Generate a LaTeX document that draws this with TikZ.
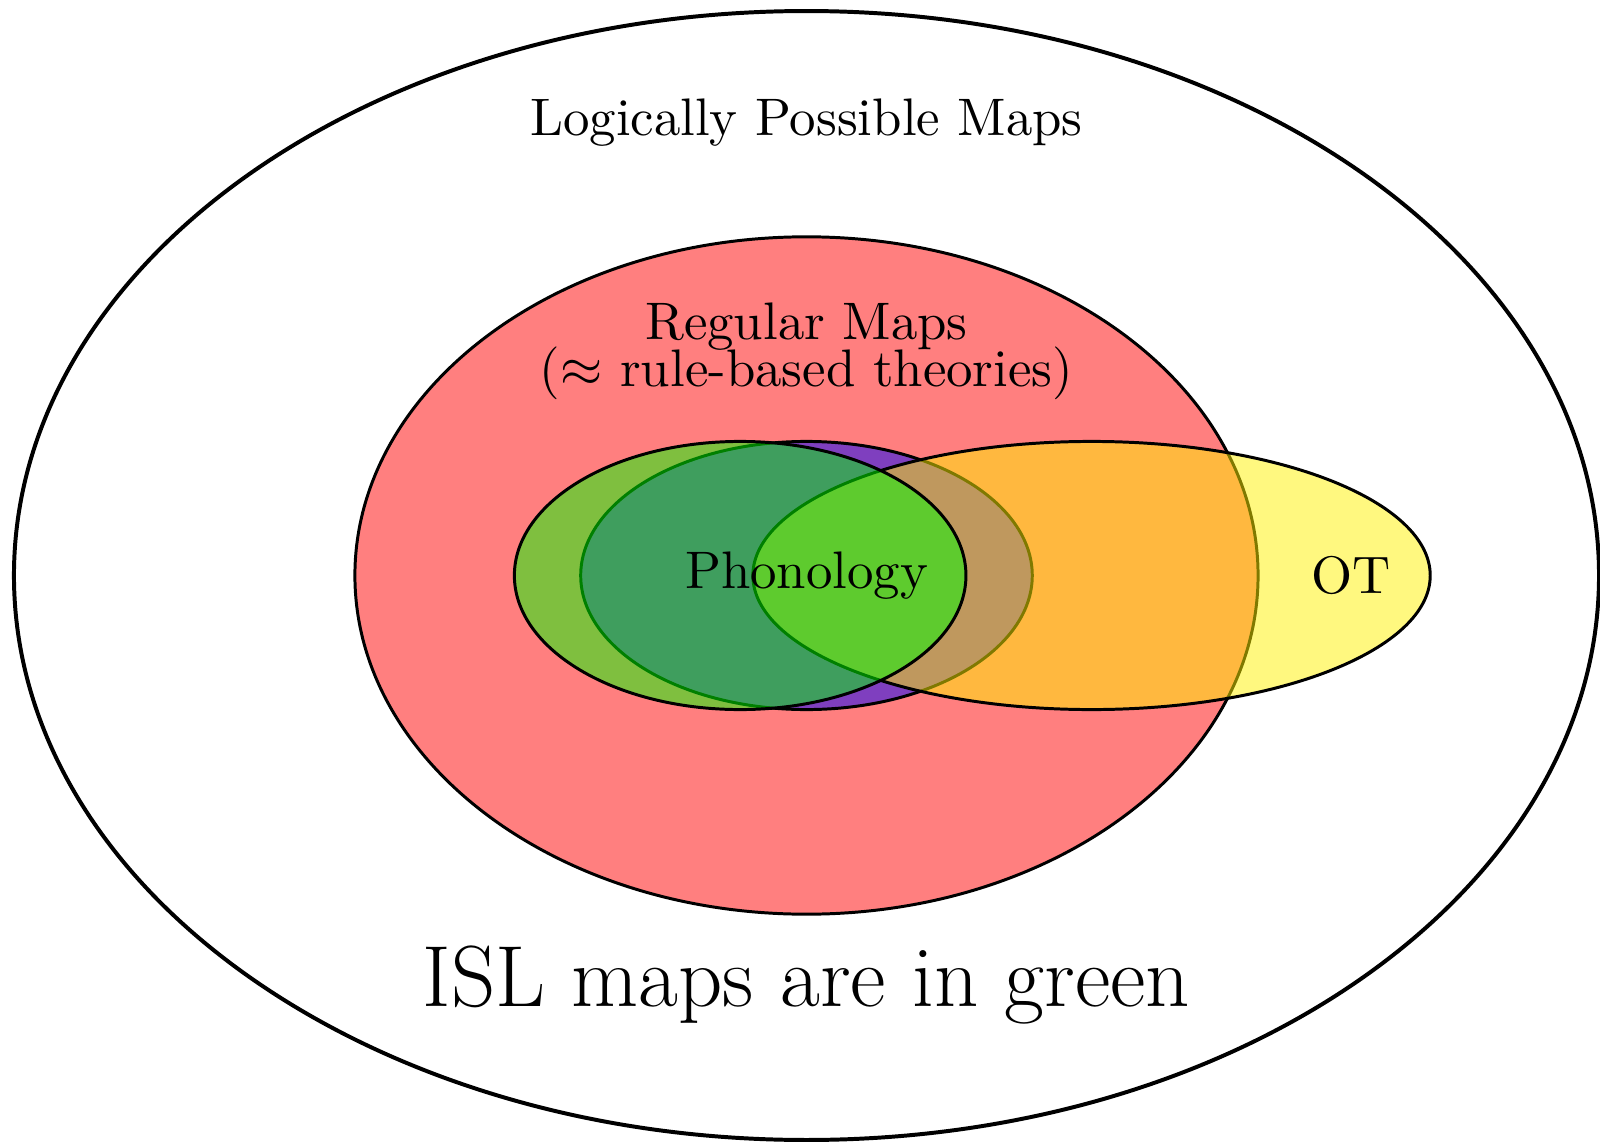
\documentclass[tikz,border=0pt]{standalone}
\begin{document}
\begin{tikzpicture}[every node/.style={inner sep=0pt, font=\fontsize{10.65}{12}\selectfont},
  set/.style={draw, semithick, fill opacity=0.5}]
\useasboundingbox (-5.715,-4.028) rectangle (5.623,4.078);
\draw[thick] (0,0) ellipse (5.616 and 4);
\path[set, fill=red] (0,0) ellipse (3.2 and 2.4);
\path[set, fill=blue] (0,0) ellipse (1.6 and 0.95);
\path[set, fill=yellow] (2.02,0) ellipse (2.4 and 0.95);
\path[set, fill=green] (-0.47,0) ellipse (1.6 and 0.95);
\node (possible) at (0,3.21) {Logically Possible Maps};
\node[align=center] (regular) at (0,1.59) {Regular Maps\\[-2.6pt]($\approx$ rule-based theories)};
\node (phonology) at (0,0) {Phonology};
\node (ot) at (3.86,0) {OT};
\node[font=\fontsize{17.5}{20}\selectfont] (isl) at (0,-2.9) {ISL maps are in green};
\end{tikzpicture}
\end{document}
